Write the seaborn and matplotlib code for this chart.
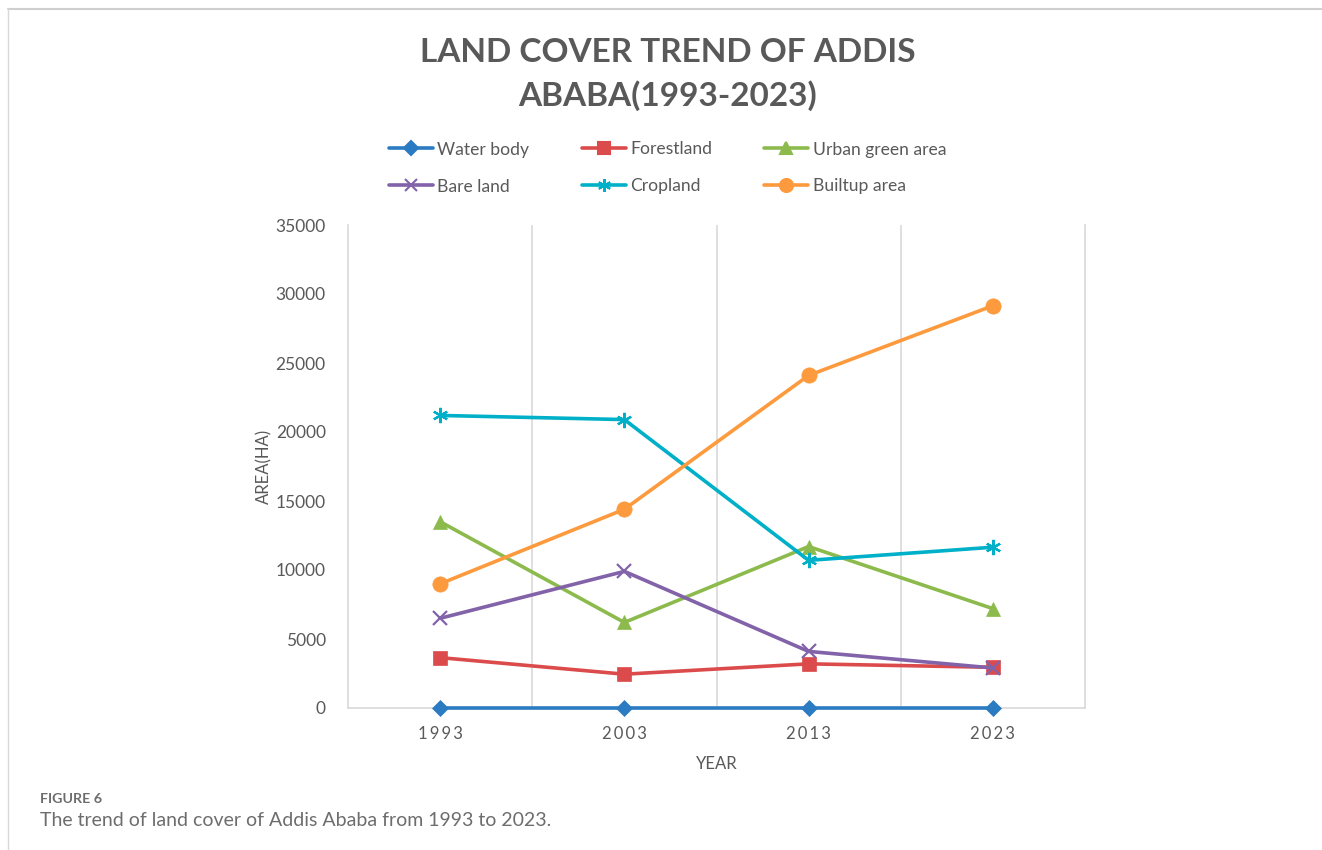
import matplotlib
matplotlib.use("Agg")
import matplotlib.pyplot as plt
from matplotlib.lines import Line2D
import pandas as pd
import seaborn as sns

years = ["1993", "2003", "2013", "2023"]
water_body = [30, 30, 30, 30]
forestland = [3650, 2450, 3200, 2950]
urban_green = [13500, 6200, 11700, 7200]
bare_land = [6500, 9900, 4100, 2900]
cropland = [21200, 20900, 10700, 11650]
builtup = [9000, 14400, 24100, 29150]

series_names = ["Water body", "Forestland", "Urban green area",
                "Bare land", "Cropland", "Builtup area"]
series_values = [water_body, forestland, urban_green, bare_land, cropland, builtup]
colors = ["#2a7bc1", "#dc4b4b", "#8cba4c", "#8262a8", "#00b0c8", "#fd9a3d"]
markers = ["D", "s", "^", "x", (6, 2, 0), "o"]
msizes = [8, 10, 10, 10, 11, 11]

rows = []
for name, vals in zip(series_names, series_values):
    for i, v in enumerate(vals):
        rows.append({"pos": i, "Year": years[i], "Area": v, "Cover": name})
df = pd.DataFrame(rows)

sns.set_theme(style="white")
plt.rcParams["font.family"] = ["Lato", "DejaVu Sans"]
text_gray = "#595959"

fig = plt.figure(figsize=(13.22, 8.5), dpi=100)
ax = fig.add_axes([348 / 1322, 1 - 708 / 850, (1085 - 348) / 1322, (708 - 225) / 850])

for name, col, mk, ms in zip(series_names, colors, markers, msizes):
    sub = df[df["Cover"] == name]
    sns.lineplot(data=sub, x="pos", y="Area", ax=ax, color=col, linewidth=2.6,
                 marker=mk, markersize=ms, markeredgecolor=col,
                 markeredgewidth=1.6 if mk in ("x",) or isinstance(mk, tuple) else 0.5,
                 label=name, legend=False, zorder=3, clip_on=False)

ax.set_xlim(-0.5, len(years) - 0.5)
ax.set_ylim(0, 35000)
ax.set_yticks(range(0, 35001, 5000))
ax.set_yticklabels([str(v) for v in range(0, 35001, 5000)], fontsize=12.5, color=text_gray)
ax.set_xticks(range(len(years)))
ax.set_xticklabels(["\u2009".join(y) for y in years], fontsize=12, color=text_gray)
ax.tick_params(axis="x", length=0, pad=13)
ax.tick_params(axis="y", length=0, pad=16)

for b in [0.5, 1.5, 2.5]:
    ax.axvline(b, color="#d9d9d9", linewidth=1.2, zorder=0)
for s in ["left", "bottom", "right"]:
    ax.spines[s].set_color("#d9d9d9")
    ax.spines[s].set_linewidth(1.2)
ax.spines["top"].set_visible(False)
ax.grid(False)

ax.set_xlabel("YEAR", fontsize=12, color=text_gray, labelpad=10)
ax.set_ylabel("AREA(HA)", fontsize=12, color=text_gray, labelpad=2)

fig.text(0.505, 1 - 52 / 850, "LAND COVER TREND OF ADDIS", ha="center", va="center",
         fontsize=24, fontweight="bold", color=text_gray)
fig.text(0.505, 1 - 96 / 850, "ABABA(1993-2023)", ha="center", va="center",
         fontsize=24, fontweight="bold", color=text_gray)

# legend: three columns, filled row by row
handles = [Line2D([], [], color=c, linewidth=2.6, marker=m, markersize=ms * 0.85,
                  markeredgecolor=c, markeredgewidth=1.5)
           for c, m, ms in zip(colors, markers, msizes)]
order = [0, 3, 1, 4, 2, 5]
fig.legend([handles[i] for i in order], [series_names[i] for i in order],
           ncol=3, loc="center", bbox_to_anchor=(0.505, 1 - 168 / 850),
           frameon=False, fontsize=12.6, handlelength=2.5, columnspacing=3.0,
           labelspacing=1.2, handletextpad=0.25, labelcolor=text_gray)

# page frame lines
fig.add_artist(Line2D([8 / 1322, 1], [1 - 9 / 850, 1 - 9 / 850], color="#cfcfcf", linewidth=1.5))
fig.add_artist(Line2D([8 / 1322, 8 / 1322], [0, 1 - 9 / 850], color="#d9d9d9", linewidth=1.0))

fig.text(40 / 1322, 1 - 799 / 850, "FIGURE 6", ha="left", va="center",
         fontsize=10.3, fontweight="bold", color="#6d6d6d")
fig.text(40 / 1322, 1 - 820 / 850, "The trend of land cover of Addis Ababa from 1993 to 2023.",
         ha="left", va="center", fontsize=14, color="#6d6d6d")

fig.savefig("out.png", dpi=100, facecolor="white")
